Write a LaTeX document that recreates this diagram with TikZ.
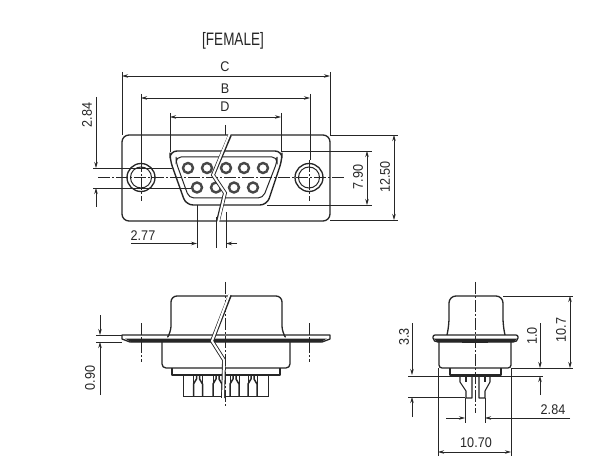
\documentclass[tikz,border=0pt]{standalone}
\usepackage{fontspec}
\setmainfont[FakeStretch=0.9]{Liberation Sans}
\usetikzlibrary{arrows.meta}
\definecolor{ink}{HTML}{262626}
\tikzset{
  x=1pt,y=-1pt,
  outline/.style={draw=ink,line width=1.3pt,line join=round},
  thin line/.style={draw=ink,line width=0.8pt},
  dim/.style={draw=ink,line width=0.8pt,-{Stealth[length=6pt,width=3.5pt]}},
  dimboth/.style={draw=ink,line width=0.8pt,{Stealth[length=6pt,width=3.5pt]}-{Stealth[length=6pt,width=3.5pt]}},
  center line/.style={draw=ink,line width=0.6pt,dash pattern=on 12pt off 2pt on 2pt off 2pt},
  label/.style={text=ink,font=\fontsize{14}{14}\selectfont,inner sep=0pt},
  vlabel/.style={label,rotate=90},
  breakline/.style={draw=ink,line width=3.8pt,line join=miter},
  breakgap/.style={draw=white,line width=2pt,line join=miter},
  pinhole/.style={draw=ink!85,line width=2.4pt,fill=white},
}
\newcommand{\pinU}[1]{%
  \draw[ink,line width=1.5pt] (#1-4.5,396) -- (#1-4.5,384) -- (#1-1.5,379) -- (#1-1.5,376);
  \draw[ink,line width=1.5pt] (#1+4.5,396) -- (#1+4.5,384) -- (#1+1.5,379) -- (#1+1.5,376);
  \draw[ink,line width=0.7pt] (#1-4.5,376) -- (#1-4.5,384) (#1+4.5,376) -- (#1+4.5,384);
}
\begin{document}
\begin{tikzpicture}
\useasboundingbox (0,0) rectangle (600,473);
\fill[white] (0,0) rectangle (600,473);

\node[label,font=\fontsize{15}{15}\selectfont,yscale=1.2,transform shape] (female) at (233,41) {[FEMALE]};

% ---------- top view ----------
\draw[outline,rounded corners=7pt] (122,135) rectangle (330,221);
\foreach \cx in {141,309}{
  \draw[outline] (\cx,177.5) circle (14);
  \draw[draw=ink,line width=1pt] (\cx,177.5) circle (10.5);
}
\draw[outline,line width=1.4pt,rounded corners=7pt] (170,151) -- (282,151) -- (282,160) -- (267,205) -- (186,205) -- (170,160) -- cycle;
\draw[thin line,line width=1pt,rounded corners=5pt] (176,157) -- (277,157) -- (277,162) -- (263,198) -- (189,198) -- (176,162) -- cycle;
\foreach \px in {188,207,226,244,263}{\draw[pinhole] (\px,168) circle (5);}
\foreach \px in {197,216,234,253}{\draw[pinhole] (\px,187.5) circle (5);}
% centre lines top view
\draw[center line] (98,177.5) -- (345,177.5);
\draw[center line] (225,125) -- (225,135);
\draw[center line] (141,160) -- (141,201);
\draw[center line] (309,160) -- (309,201);
% break
\draw[breakline] (230,135) -- (213,175) -- (225,193) -- (218,221);
\draw[breakgap] (230,133) -- (213,175) -- (225,193) -- (218,223);
\fill[white] (216,222.5) rectangle (222,226);

% dimensions top view
\draw[thin line] (122,72) -- (122,135) (330,72) -- (330,135);
\draw[dimboth] (122,76) -- (330,76);
\node[label] (c) at (225,67) {C};
\draw[thin line] (141,94) -- (141,160) (310,94) -- (310,160);
\draw[dimboth] (141,98) -- (310,98);
\node[label] (b) at (225,89) {B};
\draw[thin line] (170,113) -- (170,152) (281,113) -- (281,152);
\draw[dimboth] (170,117) -- (281,117);
\node[label] (d) at (225,107) {D};

\node[vlabel] (a284) at (87,115) {2.84};
\draw[dim] (96,97) -- (96,168);
\draw[dim] (96,207) -- (96,188);
\draw[thin line] (93,168) -- (172,168) (93,188) -- (191,188);

\node[label] (a277) at (143,236) {2.77};
\draw[dim] (131,243.5) -- (197,243.5);
\draw[thin line] (197,205) -- (197,248) (216,217) -- (216,248) (226,212) -- (226,248);
\draw[dim] (237,243.5) -- (226,243.5);

\node[vlabel] (a790) at (358,177) {7.90};
\draw[thin line] (281,151) -- (372,151) (267,205) -- (372,205);
\draw[dimboth] (367,151) -- (367,205);
\node[vlabel] (a1250) at (385,177) {12.50};
\draw[thin line] (330,135) -- (398,135) (330,220) -- (398,220);
\draw[dimboth] (394,135) -- (394,220);

% ---------- front view ----------
\draw[outline,rounded corners=6pt] (169,335) -- (171,332) -- (171,296) -- (282,296) -- (282,332) -- (284,335);
\draw[outline,rounded corners=4pt] (162,342) -- (162,368) -- (290,368) -- (290,342);
\draw[outline] (172,368) -- (172,375) -- (280,375) -- (280,368);
\draw[thin line,line width=1pt] (183,375) -- (183,396.5) -- (268,396.5) -- (268,375);
\foreach \px in {198,217.5,234.5,252.5}{\pinU{\px}}
\draw[outline] (122,335) -- (330,335) -- (330,339) -- (322,342) -- (130,342) -- (122,339) -- cycle;
\fill[ink] (125,338.5) -- (327,338.5) -- (321,342) -- (131,342) -- cycle;
\draw[center line] (225,282) -- (225,407);
\draw[center line] (141,323) -- (141,362);
\draw[center line] (309,323) -- (309,362);
\draw[breakline] (230,295) -- (212,341) -- (224,360) -- (223,398);
\draw[breakgap] (230,293) -- (212,341) -- (224,360) -- (223,400);

\node[vlabel] (a090) at (90,378) {0.90};
\draw[thin line] (96,335) -- (122,335) (96,342) -- (122,342);
\draw[dim] (100,315) -- (100,335);
\draw[dim] (100,395) -- (100,342);

% ---------- side view ----------
\draw[outline,rounded corners=7pt] (447,335) -- (449,325) -- (449,296) -- (503,296) -- (503,325) -- (505,335);
\draw[outline,rounded corners=3pt] (439,342) -- (439,368) -- (511,368) -- (511,342);
\draw[outline] (450,368) -- (450,375) -- (501,375) -- (501,368);
\draw[outline,rounded corners=2pt] (433,335) -- (518,335) -- (518,340) -- (515,342) -- (436,342) -- (433,340) -- cycle;
\fill[ink] (434,338.5) -- (517,338.5) -- (514,342) -- (437,342) -- cycle;
\fill[ink] (462,339) rectangle (488,343);
% pins of the side view
\draw[outline,line width=1.1pt] (460,376) -- (460,382) -- (466,391) -- (466,398) -- (472,398) -- (472,376);
\draw[ink,line width=1.4pt] (466,374) -- (466,382);
\draw[outline,line width=1.1pt] (490,376) -- (490,382) -- (485,391) -- (485,398) -- (479,398) -- (479,376);
\draw[ink,line width=1.4pt] (485,374) -- (485,382);
\draw[center line] (475,282) -- (475,413);

\draw[thin line] (503,296) -- (573,296) (511,368) -- (573,368);
\draw[dimboth] (570,296) -- (570,368);
\node[vlabel] (s107) at (561,330) {10.7};
\node[vlabel] (s10) at (532,336) {1.0};
\draw[dim] (540,323) -- (540,368);
\draw[thin line] (408,376) -- (543,376);
\draw[dim] (540,395) -- (540,376);
\node[vlabel] (s33) at (404,337) {3.3};
\draw[dim] (412,323) -- (412,375);
\draw[thin line] (408,397) -- (465,397);
\draw[dim] (412,417) -- (412,397);
\node[label] (s284) at (553,410) {2.84};
\draw[thin line] (465,398) -- (465,423) (485,398) -- (485,423);
\draw[dim] (446,418) -- (465,418);
\draw[dim] (570,418) -- (485,418);
\node[label] (s1070) at (476,443) {10.70};
\draw[thin line] (438,368) -- (438,456) (511,368) -- (511,456);
\draw[dimboth] (438,452) -- (511,452);
\end{tikzpicture}
\end{document}
